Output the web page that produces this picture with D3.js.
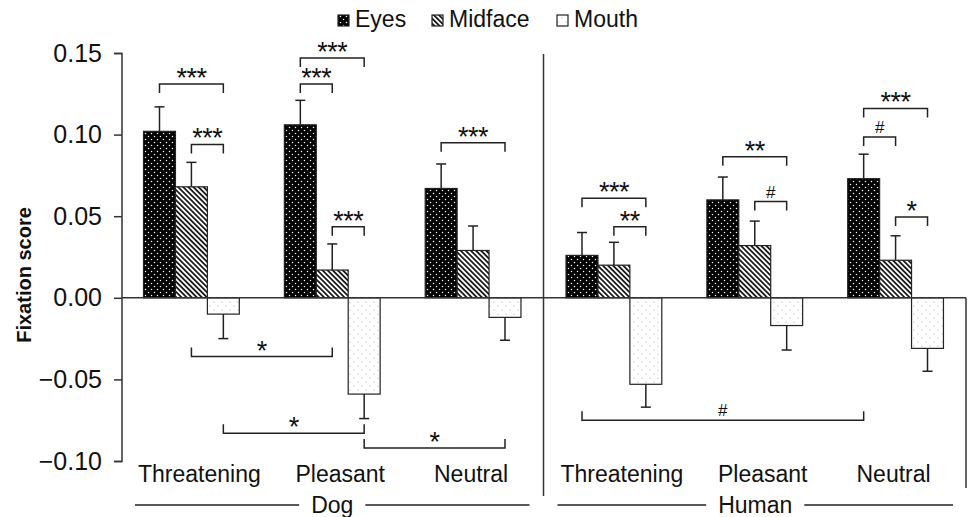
<!DOCTYPE html>
<html>
<head>
<meta charset="utf-8">
<script src="https://d3js.org/d3.v7.min.js"></script>
<style>
  body { margin: 0; background: #ffffff; }
  text { font-family: "Liberation Sans", Arial, sans-serif; fill: #111111; }
  .tick text { font-size: 25px; }
  .cat-label { font-size: 23px; }
  .group-label { font-size: 23px; }
  .legend text { font-size: 23px; }
  .y-title { font-size: 20px; font-weight: bold; }
  .sig { font-size: 27px; }
  .sig-hash { font-size: 17px; }
</style>
</head>
<body>
<div id="chart"></div>
<script>
  // data
  const species = ["Dog", "Human"];
  const conditions = ["Threatening", "Pleasant", "Neutral"];
  const regions = ["Eyes", "Midface", "Mouth"];

  // order: Dog Threatening, Dog Pleasant, Dog Neutral, Human Threatening, Human Pleasant, Human Neutral
  const eyesMean    = [0.102, 0.106, 0.067, 0.026, 0.060, 0.073];
  const eyesErr     = [0.015, 0.015, 0.015, 0.014, 0.014, 0.015];
  const midfaceMean = [0.068, 0.017, 0.029, 0.020, 0.032, 0.023];
  const midfaceErr  = [0.015, 0.016, 0.015, 0.014, 0.015, 0.015];
  const mouthMean   = [-0.010, -0.059, -0.012, -0.053, -0.017, -0.031];
  const mouthErr    = [0.015, 0.015, 0.014, 0.014, 0.015, 0.014];

  const yTicks = [-0.10, -0.05, 0.00, 0.05, 0.10, 0.15];

  // significance brackets within a group: [group index, from region, to region, level, label]
  const topBrackets = [
    [0, "Eyes", "Mouth", 0.131, "***"],
    [0, "Midface", "Mouth", 0.094, "***"],
    [1, "Eyes", "Mouth", 0.147, "***"],
    [1, "Eyes", "Midface", 0.131, "***"],
    [1, "Midface", "Mouth", 0.0435, "***"],
    [2, "Eyes", "Mouth", 0.095, "***"],
    [3, "Eyes", "Mouth", 0.061, "***"],
    [3, "Midface", "Mouth", 0.0435, "**"],
    [4, "Eyes", "Mouth", 0.0865, "**"],
    [4, "Midface", "Mouth", 0.059, "#"],
    [5, "Eyes", "Mouth", 0.116, "***"],
    [5, "Eyes", "Midface", 0.0985, "#"],
    [5, "Midface", "Mouth", 0.0495, "*"]
  ];
  // brackets across groups: [group a, region a, group b, region b, level, label]
  const bottomBrackets = [
    [0, "Midface", 1, "Midface", -0.036, "*"],
    [0, "Mouth", 1, "Mouth", -0.083, "*"],
    [1, "Mouth", 2, "Mouth", -0.092, "*"],
    [3, "Eyes", 5, "Eyes", -0.075, "#"]
  ];

  const means = { Eyes: eyesMean, Midface: midfaceMean, Mouth: mouthMean };
  const errs = { Eyes: eyesErr, Midface: midfaceErr, Mouth: mouthErr };

  const groups = [];
  species.forEach(s => conditions.forEach(c => groups.push({ species: s, condition: c })));
  const bars = [];
  groups.forEach((g, i) => regions.forEach(r => {
    bars.push({ gi: i, region: r, value: means[r][i], err: errs[r][i] });
  }));

  const W = 969, H = 517;
  const svg = d3.select("#chart").append("svg")
    .attr("width", W).attr("height", H);

  // patterns
  const defs = svg.append("defs");
  const pEyes = defs.append("pattern").attr("id", "pat-eyes")
    .attr("patternUnits", "userSpaceOnUse").attr("width", 6).attr("height", 6);
  pEyes.append("rect").attr("width", 6).attr("height", 6).attr("fill", "#000");
  pEyes.append("circle").attr("cx", 1.5).attr("cy", 1.5).attr("r", 0.75).attr("fill", "#fff");
  pEyes.append("circle").attr("cx", 4.5).attr("cy", 4.5).attr("r", 0.75).attr("fill", "#fff");

  const pMid = defs.append("pattern").attr("id", "pat-mid")
    .attr("patternUnits", "userSpaceOnUse").attr("width", 3.6).attr("height", 3.6)
    .attr("patternTransform", "rotate(-45)");
  pMid.append("rect").attr("width", 3.6).attr("height", 3.6).attr("fill", "#fff");
  pMid.append("line").attr("x1", 0.9).attr("x2", 0.9).attr("y1", 0).attr("y2", 3.6)
    .attr("stroke", "#000").attr("stroke-width", 1.6);

  const pMouth = defs.append("pattern").attr("id", "pat-mouth")
    .attr("patternUnits", "userSpaceOnUse").attr("width", 8).attr("height", 8);
  pMouth.append("rect").attr("width", 8).attr("height", 8).attr("fill", "#fff");
  pMouth.append("circle").attr("cx", 2).attr("cy", 2).attr("r", 0.6).attr("fill", "#999");
  pMouth.append("circle").attr("cx", 6).attr("cy", 6).attr("r", 0.6).attr("fill", "#999");

  const fillFor = { Eyes: "url(#pat-eyes)", Midface: "url(#pat-mid)", Mouth: "url(#pat-mouth)" };

  // scales
  const y = d3.scaleLinear().domain([-0.10, 0.15]).range([461, 53]);
  const x0 = d3.scaleBand().domain(d3.range(groups.length)).range([121, 966])
    .paddingInner(0.32).paddingOuter(0.16);
  const x1 = d3.scaleBand().domain(regions).range([0, x0.bandwidth()]);
  const cx = (gi, r) => x0(gi) + x1(r) + x1.bandwidth() / 2;

  // y axis
  const yAxis = svg.append("g").attr("transform", "translate(122,0)")
    .call(d3.axisLeft(y).tickValues(yTicks).tickFormat(d3.format(".2f")).tickSize(8).tickPadding(12));
  yAxis.selectAll("path, line").attr("stroke", "#333").attr("stroke-width", 1.5);
  yAxis.select(".domain").attr("d", "M-8,53.5H0V461.5H-8");
  yAxis.selectAll(".tick text").attr("fill", "#111").style("font-family", "Liberation Sans, Arial, sans-serif");

  svg.append("text").attr("class", "y-title")
    .attr("transform", "translate(31,275) rotate(-90)")
    .attr("text-anchor", "middle").text("Fixation score");

  // separator between Dog and Human
  const sepX = (x0(2) + x0.bandwidth() + x0(3)) / 2;
  svg.append("line").attr("x1", sepX).attr("x2", sepX).attr("y1", 54).attr("y2", 496)
    .attr("stroke", "#333").attr("stroke-width", 1.5);
  svg.append("line").attr("x1", 966).attr("x2", 966).attr("y1", y(0)).attr("y2", 488)
    .attr("stroke", "#333").attr("stroke-width", 1.5);

  // bars
  svg.append("g").selectAll("rect").data(bars).join("rect")
    .attr("x", d => x0(d.gi) + x1(d.region))
    .attr("y", d => y(Math.max(0, d.value)))
    .attr("width", x1.bandwidth())
    .attr("height", d => Math.abs(y(d.value) - y(0)))
    .attr("fill", d => fillFor[d.region])
    .attr("stroke", "#222").attr("stroke-width", 1.2);

  // error bars (one-sided, away from zero)
  const eb = svg.append("g").attr("stroke", "#222").attr("stroke-width", 1.5);
  bars.forEach(d => {
    const xc = cx(d.gi, d.region);
    const end = d.value >= 0 ? d.value + d.err : d.value - d.err;
    eb.append("line").attr("x1", xc).attr("x2", xc).attr("y1", y(d.value)).attr("y2", y(end));
    eb.append("line").attr("x1", xc - 5).attr("x2", xc + 5).attr("y1", y(end)).attr("y2", y(end));
  });

  // zero line
  svg.append("line").attr("x1", 122).attr("x2", 966).attr("y1", y(0)).attr("y2", y(0))
    .attr("stroke", "#333").attr("stroke-width", 1.5);

  // significance brackets
  const bg = svg.append("g");
  function sigLabel(xm, yb, label) {
    const isHash = label === "#";
    bg.append("text").attr("class", isHash ? "sig-hash" : "sig")
      .attr("x", xm).attr("y", isHash ? yb - 3 : yb + 4)
      .attr("text-anchor", "middle").attr("letter-spacing", isHash ? 0 : -0.5)
      .text(label);
  }
  topBrackets.forEach(([gi, ra, rb, lv, label]) => {
    const xa = cx(gi, ra), xb = cx(gi, rb), yb = y(lv);
    bg.append("path").attr("d", `M${xa},${yb + 9}V${yb}H${xb}V${yb + 9}`)
      .attr("fill", "none").attr("stroke", "#222").attr("stroke-width", 1.5);
    sigLabel((xa + xb) / 2, yb - 1, label);
  });
  bottomBrackets.forEach(([ga, ra, gb, rb, lv, label]) => {
    const xa = cx(ga, ra), xb = cx(gb, rb), yb = y(lv);
    bg.append("path").attr("d", `M${xa},${yb - 9}V${yb}H${xb}V${yb - 9}`)
      .attr("fill", "none").attr("stroke", "#222").attr("stroke-width", 1.5);
    sigLabel((xa + xb) / 2, yb - 1, label);
  });

  // category labels
  svg.append("g").selectAll("text").data(groups).join("text")
    .attr("class", "cat-label")
    .attr("x", (d, i) => x0(i) + x0.bandwidth() / 2 + (d.condition === "Neutral" ? -2 : 8))
    .attr("y", 482).attr("text-anchor", "middle")
    .text(d => d.condition);

  // species labels with side lines
  species.forEach((s, si) => {
    const left = si === 0 ? 135 : sepX + 14;
    const right = si === 0 ? sepX - 14 : 953;
    const mid = (left + right) / 2;
    const t = svg.append("text").attr("class", "group-label")
      .attr("x", mid).attr("y", 513).attr("text-anchor", "middle").text(s);
    const half = t.node().getComputedTextLength() / 2 + 12;
    svg.append("line").attr("x1", left).attr("x2", mid - half).attr("y1", 505).attr("y2", 505)
      .attr("stroke", "#222").attr("stroke-width", 1.5);
    svg.append("line").attr("x1", mid + half).attr("x2", right).attr("y1", 505).attr("y2", 505)
      .attr("stroke", "#222").attr("stroke-width", 1.5);
  });

  // legend
  const legendX = [338, 432, 557];
  const lg = svg.append("g").attr("class", "legend");
  regions.forEach((r, i) => {
    lg.append("rect").attr("x", legendX[i]).attr("y", 15).attr("width", 11).attr("height", 11)
      .attr("fill", fillFor[r]).attr("stroke", "#222").attr("stroke-width", 1.2);
    lg.append("text").attr("x", legendX[i] + 17).attr("y", 27).text(r);
  });
</script>
</body>
</html>
